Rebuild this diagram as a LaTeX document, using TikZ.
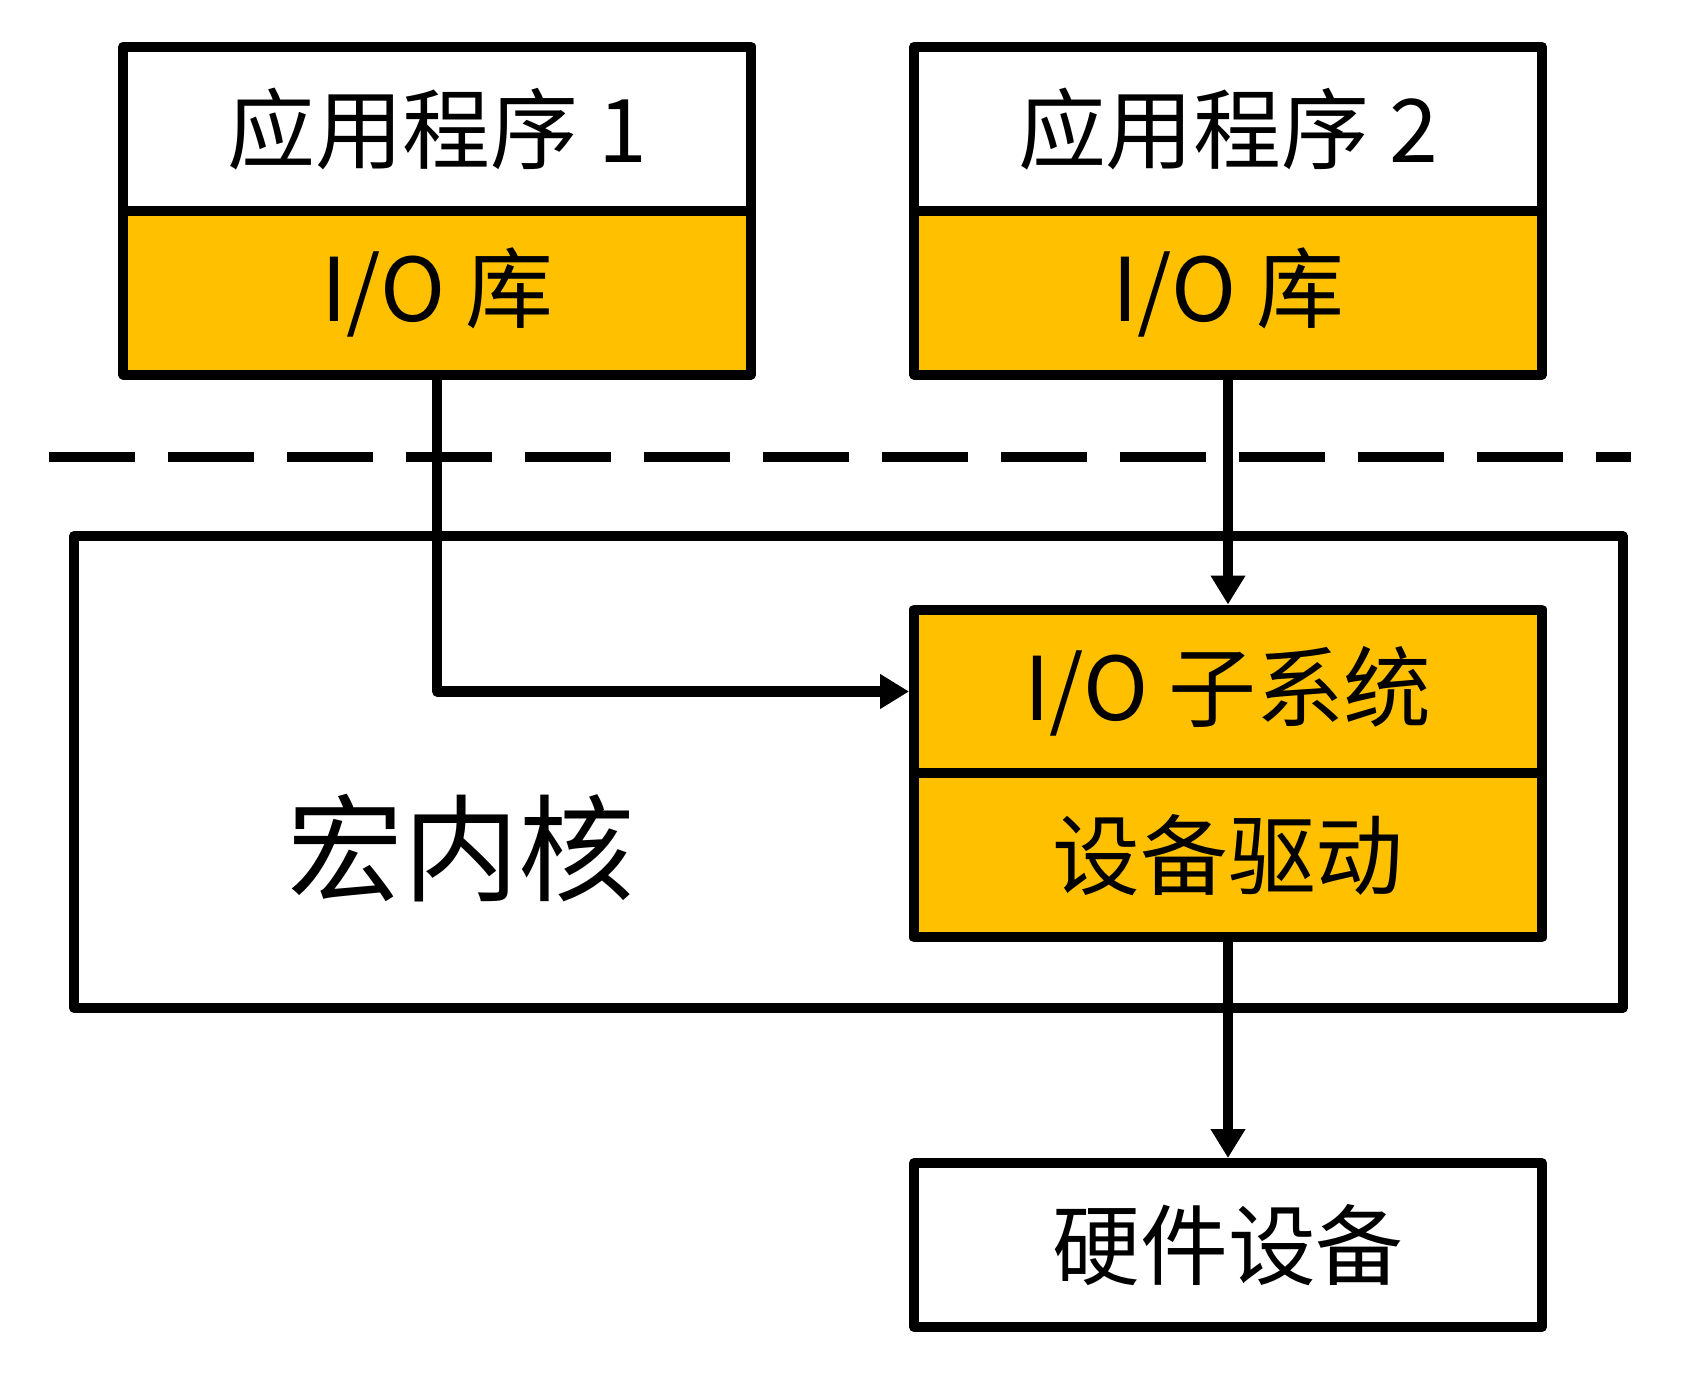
\documentclass[tikz,border=0pt]{standalone}
\usepackage{fontspec}
\setmainfont{Noto Sans CJK SC}
\usetikzlibrary{arrows.meta,positioning}
\definecolor{ioyellow}{HTML}{FFC000}
\tikzset{>={Triangle[length=0.58cm,width=0.66cm]},
every picture/.append style={
    line join=round,
    line width=5.7pt
  },
  half/.style={draw,outer sep=0pt,inner sep=0pt,minimum width=12.56cm,minimum height=3.28cm,font=\fontsize{50}{50}\selectfont},
  lib/.style={half,fill=ioyellow},
  link/.style={->,shorten >=2.85pt}}

\begin{document}
\begin{tikzpicture}[x=0.02cm,y=-0.02cm]
    \useasboundingbox (0,0) rectangle (1701,1378);
    % kernel frame
    \node [draw,outer sep=0pt,minimum width=30.98cm,minimum height=9.44cm] (kernel) at (848.4,771.9) {};
    \node [font=\fontsize{66}{66}\selectfont] (kname) at (461,848) {宏内核};
    % user space
    \node [half] (app1) at (437.2,128.6) {应用程序 1};
    \node [lib,below=0pt of app1] (lib1) {I/O 库};
    \node [half] (app2) at (1228,128.6) {应用程序 2};
    \node [lib,below=0pt of app2] (lib2) {I/O 库};
    \draw [dash pattern=on 1.72cm off 0.66cm] (48.8,456.7) -- (1630.5,456.7);
    % kernel parts
    \node [lib] (io) at (1228,691.5) {I/O 子系统};
    \node [lib,below=0pt of io] (drv) {设备驱动};
    \node [half] (hw) at (1228,1245) {硬件设备};
    \draw [link] (lib1) |- (io);
    \draw [link] (lib2) -- (io);
    \draw [link] (drv) -- (hw);
\end{tikzpicture}
\end{document}
